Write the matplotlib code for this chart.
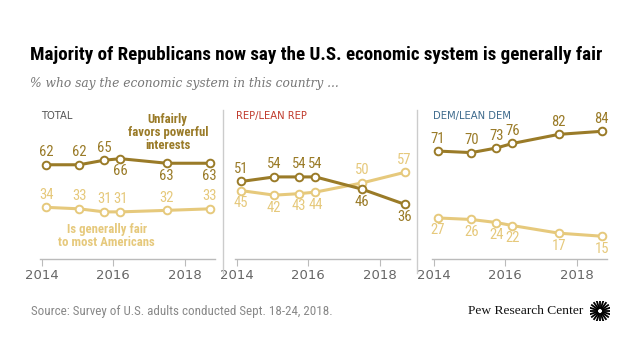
import numpy as np
import matplotlib
matplotlib.use("Agg")
import matplotlib.pyplot as plt
from matplotlib import font_manager

# survey waves (fractional years)
years = [2014.12, 2015.05, 2015.75, 2016.2, 2017.5, 2018.7]
panels = ["TOTAL", "REP/LEAN REP", "DEM/LEAN DEM"]
panel_colors = ["#555555", "#C0392B", "#3D6A8C"]

unfair = [
    [62, 62, 65, 66, 63, 63],
    [51, 54, 54, 54, 46, 36],
    [71, 70, 73, 76, 82, 84],
]
fair = [
    [34, 33, 31, 31, 32, 33],
    [45, 42, 43, 44, 50, 57],
    [27, 26, 24, 22, 17, 15],
]
# label placement: 1 above, -1 below
unfair_pos = [
    [1, 1, 1, -1, -1, -1],
    [1, 1, 1, 1, -1, -1],
    [1, 1, 1, 1, 1, 1],
]
fair_pos = [
    [1, 1, 1, 1, 1, 1],
    [-1, -1, -1, -1, 1, 1],
    [-1, -1, -1, -1, -1, -1],
]
tick_years = [2014, 2016, 2018]

DARK = "#9A7B28"
LIGHT = "#E6C97C"
W, H = 640, 360


def fx(px):
    return px / W


def fy(py):
    return 1 - py / H


def pick_font(names, fallback="DejaVu Sans"):
    installed = {f.name for f in font_manager.fontManager.ttflist}
    for n in names:
        if n in installed:
            return n
    return fallback


narrow = pick_font(["Liberation Sans Narrow", "Roboto Condensed", "DejaVu Sans"])


def fit(txt, width_px):
    # scale a text so it spans the width measured on the reference
    fig.canvas.draw()
    w = txt.get_window_extent(fig.canvas.get_renderer()).width
    txt.set_fontsize(txt.get_fontsize() * width_px / w)


fig = plt.figure(figsize=(6.4, 3.6), dpi=100)
fig.patch.set_facecolor("white")

lefts = [40, 235, 432]
pw = 175
for i in range(3):
    ax = fig.add_axes([fx(lefts[i]), fy(259), fx(pw), (259 - 107) / H])
    ax.set_xlim(2013.95, 2018.85)
    ax.set_ylim(0, 100)
    for s in ["top", "right", "left"]:
        ax.spines[s].set_visible(False)
    ax.spines["bottom"].set_color("#BBBBBB")
    ax.spines["bottom"].set_linewidth(1)
    ax.set_yticks([])
    ax.set_xticks(tick_years)
    ax.set_xticklabels([str(y) for y in tick_years])
    ax.tick_params(axis="x", length=5, color="#BBBBBB", labelcolor="#666666",
                   labelsize=9.5, pad=2)
    ax.patch.set_alpha(0)

    for vals, pos, col in [(fair[i], fair_pos[i], LIGHT), (unfair[i], unfair_pos[i], DARK)]:
        ax.plot(years, vals, color=col, lw=2.2, marker="o", ms=5.5,
                mfc="white", mec=col, mew=1.4, zorder=3, clip_on=False)
        for x, v, p in zip(years, vals, pos):
            ax.annotate(str(v), (x, v), xytext=(0, 9 * p), textcoords="offset points",
                        ha="center", va="center", fontsize=10.5, color=col, family=narrow)

    fig.text(fx(lefts[i] + 1), fy(116), panels[i], fontsize=7.2, color=panel_colors[i],
             va="center", ha="left")

    if i == 0:
        ax.text(2017.53, 83.5, "Unfairly\nfavors powerful\ninterests", ha="center",
                va="center", fontsize=9.2, fontweight="bold", color=DARK,
                family=narrow, linespacing=1.0)
        ax.text(2015.82, 15, "Is generally fair\nto most Americans", ha="center",
                va="center", fontsize=9.2, fontweight="bold", color=LIGHT,
                family=narrow, linespacing=1.0)

# separators
for xs in [222.7, 416.7]:
    fig.add_artist(plt.Line2D([fx(xs), fx(xs)], [fy(110), fy(273)], color="#CCCCCC", lw=1))

title = fig.text(fx(30), fy(55), "Majority of Republicans now say the U.S. economic system is generally fair",
                 fontsize=12, fontweight="bold", family=narrow, color="black", va="center")
fit(title, 572)

sub = fig.text(fx(30), fy(83), "% who say the economic system in this country ...",
               fontsize=10, style="italic", family="DejaVu Serif", color="#777777", va="center")
fit(sub, 310)

src = fig.text(fx(31), fy(312), "Source: Survey of U.S. adults conducted Sept. 18-24, 2018.",
               fontsize=8, color="#888888", va="center", family=narrow)
fit(src, 301)

pew = fig.text(fx(583), fy(311), "Pew Research Center", fontsize=9, family="Liberation Serif",
               color="#111111", va="center", ha="right")
fit(pew, 115)

# logo
lax = fig.add_axes([fx(590), fy(321), fx(20), 20 / H])
lax.set_xlim(-1, 1)
lax.set_ylim(-1, 1)
lax.axis("off")
for a in np.linspace(0, 2 * np.pi, 20, endpoint=False):
    lax.plot([0.3 * np.cos(a), np.cos(a)], [0.3 * np.sin(a), np.sin(a)], color="black", lw=1.3)

fig.savefig("out.png", dpi=100, facecolor="white")
